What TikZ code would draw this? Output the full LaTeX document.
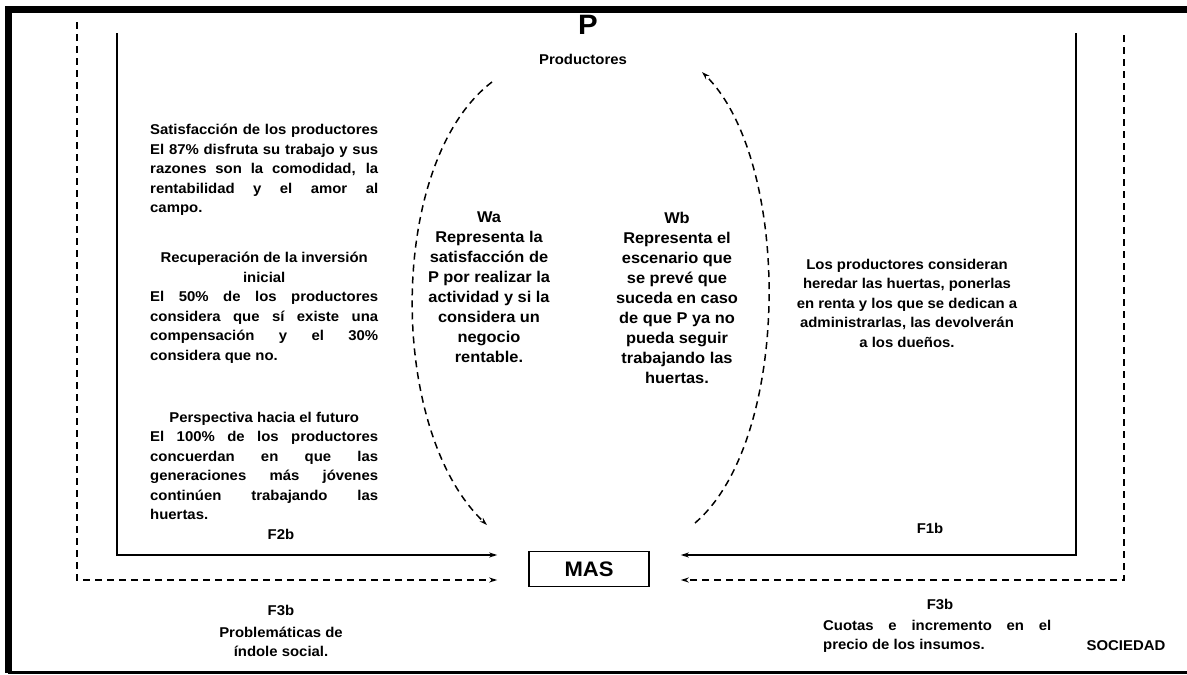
\documentclass[tikz,border=0pt]{standalone}
\usepackage{fontspec}
\setmainfont[FakeStretch=1.05]{Liberation Sans}
\usetikzlibrary{arrows.meta}
\newcommand{\jl}[1]{\makebox[228pt][s]{#1}}
\newcommand{\cl}[1]{\makebox[228pt][c]{#1}}
\begin{document}
\begin{tikzpicture}[x=1pt,y=-1pt,
  txt/.style={font=\bfseries\fontsize{14.2}{19.5}\selectfont, inner sep=0pt},
  wtxt/.style={font=\bfseries\fontsize{15.6}{20}\selectfont, inner sep=0pt, align=center, anchor=north},
  conn/.style={line width=1.6pt, -{Stealth[length=8pt,width=5pt]}},
  dconn/.style={conn, dash pattern=on 7pt off 5pt},
  arc/.style={line width=1.5pt, dash pattern=on 7pt off 5pt, -{Stealth[length=8pt,width=5pt]}},
]
\useasboundingbox (0,0) rectangle (1187,675);
% frame
\draw[line width=7pt] (1187,9) -- (8,9) -- (8,673);
\draw[line width=3pt] (8,672) -- (1187,672);

% main nodes
\node[font=\bfseries\fontsize{28}{30}\selectfont, inner sep=0pt] (P) at (588,25) {P};
\node[txt] (prod) at (583,59) {Productores};
\node[draw, line width=1.6pt, minimum width=120pt, minimum height=35pt, inner sep=0pt,
      font=\bfseries\fontsize{21}{24}\selectfont] (MAS) at (589,569) {MAS};

% Wa / Wb
\node[wtxt] (Wa) at (489,212) {Wa\\Representa la\\satisfacción de\\P por realizar la\\actividad y si la\\considera un\\negocio\\rentable.};
\node[wtxt] (Wb) at (677,212) {Wb\\Representa el\\escenario que\\se prevé que\\suceda en caso\\de que P ya no\\pueda seguir\\trabajando las\\huertas.};

% left blocks
\node[txt, anchor=north west, align=left] (L1) at (150,124) {%
\jl{Satisfacción de los productores}\\
\jl{El 87\% disfruta su trabajo y sus}\\
\jl{razones son la comodidad, la}\\
\jl{rentabilidad y el amor al}\\
campo.};
\node[txt, anchor=north west, align=left] (L2) at (150,252) {%
\cl{Recuperación de la inversión}\\
\cl{inicial}\\
\jl{El 50\% de los productores}\\
\jl{considera que sí existe una}\\
\jl{compensación y el 30\%}\\
considera que no.};
\node[txt, anchor=north west, align=left] (L3) at (150,412) {%
\cl{Perspectiva hacia el futuro}\\
\jl{El 100\% de los productores}\\
\jl{concuerdan en que las}\\
\jl{generaciones más jóvenes}\\
\jl{continúen trabajando las}\\
huertas.};

% right block
\node[txt, anchor=north, align=center] (R1) at (907,259) {Los productores consideran\\heredar las huertas, ponerlas\\en renta y los que se dedican a\\administrarlas, las devolverán\\a los dueños.};

% flow labels
\node[txt] (F2b) at (281,534) {F2b};
\node[txt] (F3bl) at (281,610) {F3b};
\node[txt, align=center] (probl) at (281,642) {Problemáticas de\\índole social.};
\node[txt] (F1b) at (930,528) {F1b};
\node[txt] (F3br) at (940,604) {F3b};
\node[txt, anchor=north west, align=left] (cuot) at (823,620) {\jl{Cuotas e incremento en el}\\precio de los insumos.};
\node[txt] (soc) at (1126,646) {SOCIEDAD};

% connectors
\coordinate (lsTop) at (117,33);
\coordinate (ldTop) at (77,22);
\coordinate (rsTop) at (1076,33);
\coordinate (rdTop) at (1124,35);
\coordinate (lsEnd) at ([xshift=-31pt]MAS.west |- 0,555);
\coordinate (ldEnd) at ([xshift=-31pt]MAS.west |- 0,580);
\coordinate (rsEnd) at ([xshift=31pt]MAS.east |- 0,555);
\coordinate (rdEnd) at ([xshift=31pt]MAS.east |- 0,580);
\draw[conn] (lsTop) |- (lsEnd);
\draw[dconn] (ldTop) |- (ldEnd);
\draw[conn] (rsTop) |- (rsEnd);
\draw[dconn] (rdTop) |- (rdEnd);

% arcs
\coordinate (aTop) at (492,82);
\coordinate (aBot) at (487,525);
\coordinate (bBot) at (695,523);
\coordinate (bTop) at (702,72);
\draw[arc] (aTop) .. controls (387,162) and (387,430) .. (aBot);
\draw[arc] (bBot) .. controls (792,440) and (792,160) .. (bTop);
\end{tikzpicture}
\end{document}
